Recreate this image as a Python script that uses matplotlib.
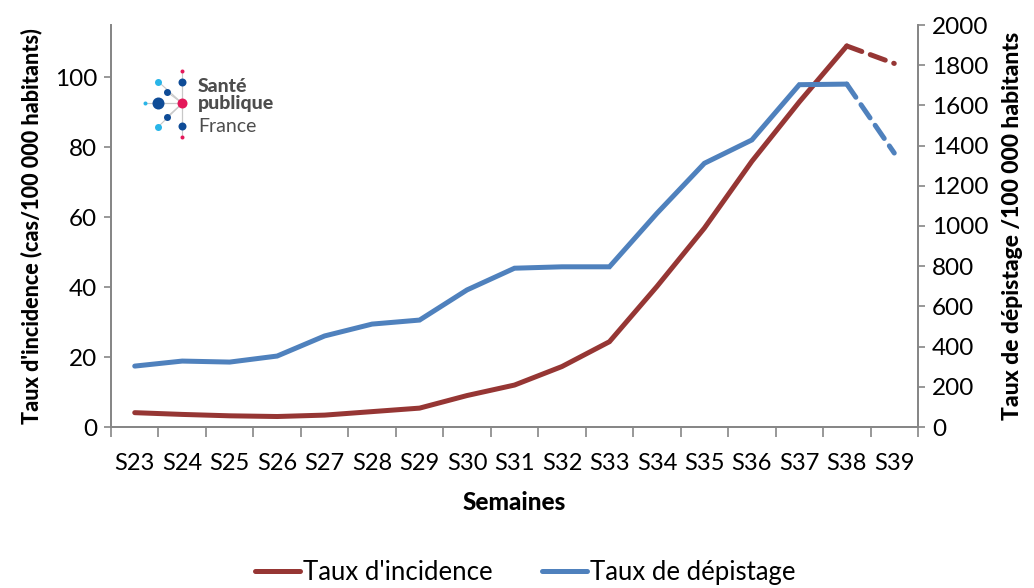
import matplotlib
matplotlib.use("Agg")
import matplotlib.pyplot as plt
from matplotlib.lines import Line2D
import numpy as np

plt.rcParams['font.family'] = ['Lato', 'DejaVu Sans']

weeks = ["S23", "S24", "S25", "S26", "S27", "S28", "S29", "S30", "S31",
         "S32", "S33", "S34", "S35", "S36", "S37", "S38", "S39"]
incidence = [4.1, 3.6, 3.2, 3.0, 3.4, 4.4, 5.4, 9.0, 12.0, 17.3, 24.4,
             40.2, 56.9, 76.0, 93.0, 109.0, 104.0]
depistage = [303, 328, 323, 353, 453, 512, 532, 682, 790, 797, 797,
             1063, 1312, 1428, 1703, 1706, 1363]

RED = "#963634"
BLUE = "#4F81BD"
GREY = "#868686"
LW = 3.6

fig = plt.figure(figsize=(10.34, 5.88), dpi=100)
ax = fig.add_axes([111/1034, 1-427/588, (918-111)/1034, (427-25)/588])
ax2 = ax.twinx()

x = np.arange(len(weeks))
n_solid = len(weeks) - 1

ax.plot(x[:n_solid], incidence[:n_solid], color=RED, lw=LW, solid_joinstyle='miter', solid_capstyle='round', zorder=3)
ax.plot(x[n_solid-1:], incidence[n_solid-1:], color=RED, lw=LW, dashes=(3.2, 1.8), dash_capstyle='round', zorder=3)
ax2.plot(x[:n_solid], depistage[:n_solid], color=BLUE, lw=LW, solid_joinstyle='miter', solid_capstyle='round', zorder=3)
ax2.plot(x[n_solid-1:], depistage[n_solid-1:], color=BLUE, lw=LW, dashes=(3.2, 1.8), dash_capstyle='round', zorder=3)

ax.set_xlim(-0.5, len(weeks) - 0.5)
ax.set_ylim(0, 115)
ax2.set_ylim(0, 2000)
ax.set_yticks(np.arange(0, 101, 20))
ax2.set_yticks(np.arange(0, 2001, 200))

TICK_FS = 17.5
ax.set_xticks(x)
ax.set_xticklabels(weeks)
ax.set_xticks(np.arange(-0.5, len(weeks), 1), minor=True)
ax.tick_params(axis='x', which='major', length=0, labelsize=17, pad=19)
ax.tick_params(axis='x', which='minor', length=7, width=1.2, color=GREY, direction='out')
ax.tick_params(axis='y', length=5, width=1.2, color=GREY, labelsize=TICK_FS, pad=5)
ax2.tick_params(axis='y', length=5, width=1.2, color=GREY, labelsize=TICK_FS, pad=5)

for a in (ax, ax2):
    a.spines['top'].set_visible(False)
    for s in ('left', 'right', 'bottom'):
        a.spines[s].set_color(GREY)
        a.spines[s].set_linewidth(1.3)

ax.set_ylabel("Taux d'incidence (cas/100 000 habitants)", fontsize=15.5, fontweight='black', labelpad=9)
ax2.set_ylabel("Taux de dépistage /100 000 habitants", fontsize=16.5, fontweight='black', labelpad=10)
ax.set_xlabel("Semaines", fontsize=17.5, fontweight='black', labelpad=12)

handles = [Line2D([], [], color=RED, lw=LW, solid_capstyle='round'),
           Line2D([], [], color=BLUE, lw=LW, solid_capstyle='round')]
fig.legend(handles, ["Taux d'incidence", "Taux de dépistage"], loc='lower center',
           bbox_to_anchor=(0.508, -0.035), ncol=2, frameon=False, fontsize=18.5,
           handlelength=1.75, handletextpad=0.12, columnspacing=1.9)

# Logo (decoration) in pixel coordinates
ov = fig.add_axes([0, 0, 1, 1], zorder=5)
ov.set_xlim(0, 1034)
ov.set_ylim(588, 0)
ov.axis('off')
cx, cy = 182.3, 103.3
dots = [(182.3, 71, 2.0, "#E4185A"), (182.3, 81.7, 4.0, "#0F4C97"),
        (158.3, 81.7, 3.5, "#29B5E8"), (166.7, 91.7, 3.5, "#0F4C97"),
        (145, 103.3, 2.0, "#29B5E8"), (158.3, 103.3, 6.0, "#0F4C97"),
        (166.7, 117.3, 3.5, "#0F4C97"), (158.3, 126.7, 3.5, "#29B5E8"),
        (182.3, 126.0, 4.0, "#0F4C97"), (182.3, 137.3, 2.0, "#E4185A")]
for (px, py, r, c) in dots:
    ov.plot([cx, px], [cy, py], color="#C8C8C8", lw=0.8, zorder=1)
for (px, py, r, c) in dots:
    ov.scatter([px], [py], s=(1.44*r)**2, color=c, zorder=2, linewidths=0)
ov.scatter([cx], [cy], s=(1.44*5)**2, color="#E4185A", zorder=2, linewidths=0)
ov.text(198, 86, "Santé", fontsize=14, fontweight='black', color="#4D4D4D", va='center', ha='left')
ov.text(198, 104, "publique", fontsize=14, fontweight='black', color="#4D4D4D", va='center', ha='left')
ov.text(198, 126, "France", fontsize=14, color="#4D4D4D", va='center', ha='left')

fig.savefig("out.png", dpi=100)
